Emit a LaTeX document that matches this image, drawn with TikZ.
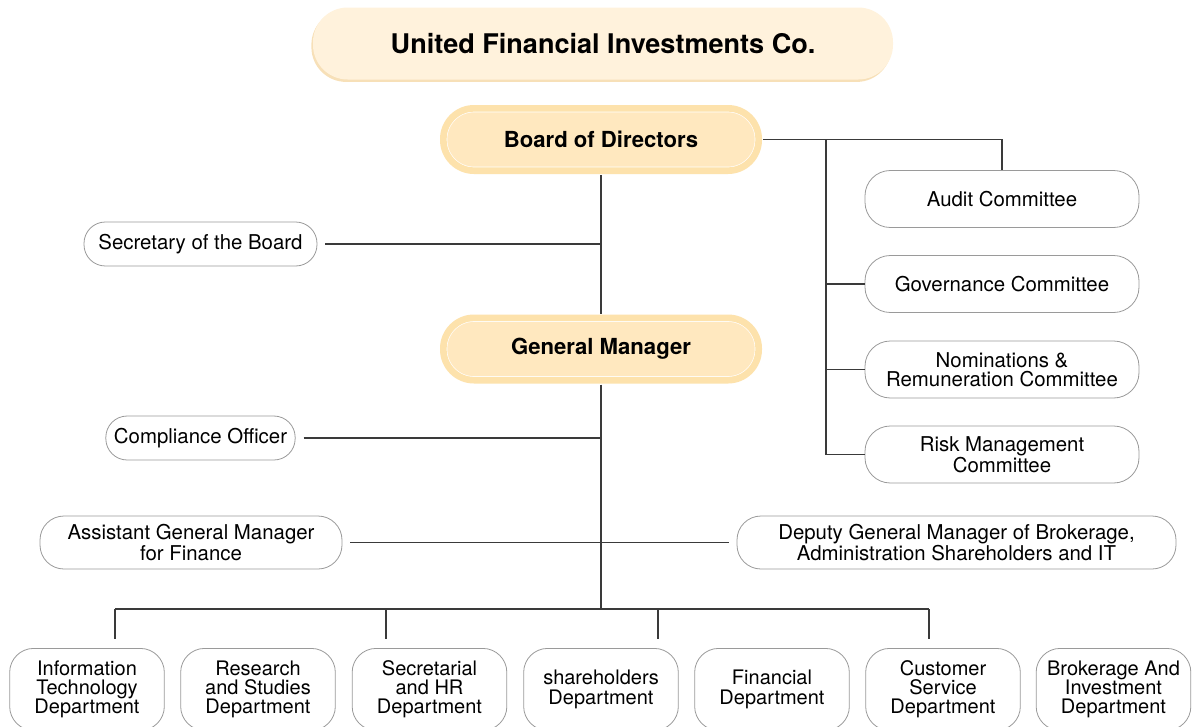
\documentclass[tikz,border=0pt]{standalone}
\usepackage{fontspec}
\setmainfont{TeX Gyre Heros}
\usetikzlibrary{calc}
\usetikzlibrary{shadows}

\definecolor{titlefill}{HTML}{FFF2DC}
\definecolor{titleshade}{HTML}{F7E0B8}
\definecolor{headfill}{HTML}{FFE8BF}
\definecolor{headring}{HTML}{FDE2AC}
\definecolor{boxgray}{HTML}{9A9A9A}
\definecolor{linkgray}{HTML}{3A3A3A}

\begin{document}
\begin{tikzpicture}[x=0.75pt, y=-0.75pt,
    link/.style={draw=linkgray, line width=0.9pt},
    titlebox/.style={fill=titlefill, rounded corners=26pt, minimum width=435pt, minimum height=54pt,
      drop shadow={shadow xshift=-1.2pt, shadow yshift=-1.8pt, fill=titleshade, opacity=1},
      font=\fontsize{20.3}{24}\selectfont\bfseries},
    headbox/.style={draw=white, line width=0.5pt, double=headring, double distance=5pt, fill=headfill,
      rounded corners=23pt, minimum width=236.5pt, minimum height=46.75pt,
      font=\fontsize{16.6}{20}\selectfont\bfseries},
    unitbox/.style={draw=boxgray, line width=0.6pt, fill=white, align=center, inner sep=2pt,
      font=\fontsize{15.3}{14.3}\selectfont},
    sidebox/.style={unitbox, rounded corners=16pt, minimum height=33pt},
    widebox/.style={unitbox, rounded corners=18pt, minimum height=39.75pt},
    cmtbox/.style={unitbox, rounded corners=19pt, minimum width=205.5pt, minimum height=42.75pt},
    deptbox/.style={unitbox, rounded corners=18pt, minimum width=116pt, minimum height=61.5pt,
      anchor=north, font=\fontsize{15}{14.3}\selectfont}]

    \useasboundingbox (0,0) rectangle (1197,726);

    \node [titlebox] (T0) at (603,43.5) {United Financial Investments Co.};
    \node [headbox] (B0) at (601,139.5) {Board of Directors};
    \node [headbox] (G0) at (601,349) {General Manager};

    \node [sidebox, minimum width=174.75pt] (S1) at (200.5,244) {Secretary of the Board};
    \node [sidebox, minimum width=142pt] (S2) at (200.5,438) {Compliance Officer};
    \node [widebox, minimum width=226.5pt] (M1) at (191,542.5) {Assistant General Manager\\for Finance};
    \node [widebox, minimum width=329.25pt] (M2) at (956.5,542.5) {Deputy General Manager of Brokerage,\\Administration Shareholders and IT};

    \node [cmtbox] (C1) at (1002,199) {Audit Committee};
    \node [cmtbox] (C2) at (1002,284) {Governance Committee};
    \node [cmtbox] (C3) at (1002,369.5) {Nominations \&\\Remuneration Committee};
    \node [cmtbox] (C4) at (1002,454.5) {Risk Management\\Committee};

    \node [deptbox] (D1) at (87,648) {Information\\Technology\\Department};
    \node [deptbox] (D2) at (258,648) {Research\\and Studies\\Department};
    \node [deptbox] (D3) at (429.5,648) {Secretarial\\and HR\\Department};
    \node [deptbox] (D4) at (601,648) {shareholders\\Department};
    \node [deptbox] (D5) at (772,648) {Financial\\Department};
    \node [deptbox] (D6) at (943,648) {Customer\\Service\\Department};
    \node [deptbox] (D7) at (1113.5,648) {Brokerage And\\Investment\\Department};

    \coordinate (J0) at (826,0);
    \coordinate (P1) at (115,609);
    \coordinate (P2) at (386,609);
    \coordinate (P3) at (658,609);
    \coordinate (P4) at (929,609);
    \coordinate (Q1) at (115,639);
    \coordinate (Q2) at (386,639);
    \coordinate (Q3) at (658,639);
    \coordinate (Q4) at (929,639);

    % board and committees
    \draw [link, shorten <=3pt, shorten >=3pt] (B0) -- (G0);
    \draw [link, shorten <=3pt] (B0.east) -| (C1.north);
    \draw [link] (B0.east -| J0) |- (C4.west);
    \draw [link] (J0 |- C2.west) -- (C2.west);
    \draw [link] (J0 |- C3.west) -- (C3.west);

    % side posts
    \draw [link, shorten <=6pt] (S1.east) -- (S1.east -| B0.south);
    \draw [link, shorten <=6pt] (S2.east) -- (S2.east -| G0.south);
    \draw [link, shorten <=6pt, shorten >=6pt] (M1.east) -- (M2.west);

    % departments
    \draw [link, shorten <=3pt] (G0.south) -- (G0.south |- P1);
    \draw [link] (P1) -- (P4);
    \draw [link] (P1) -- (Q1);
    \draw [link] (P2) -- (Q2);
    \draw [link] (P3) -- (Q3);
    \draw [link] (P4) -- (Q4);
\end{tikzpicture}
\end{document}
